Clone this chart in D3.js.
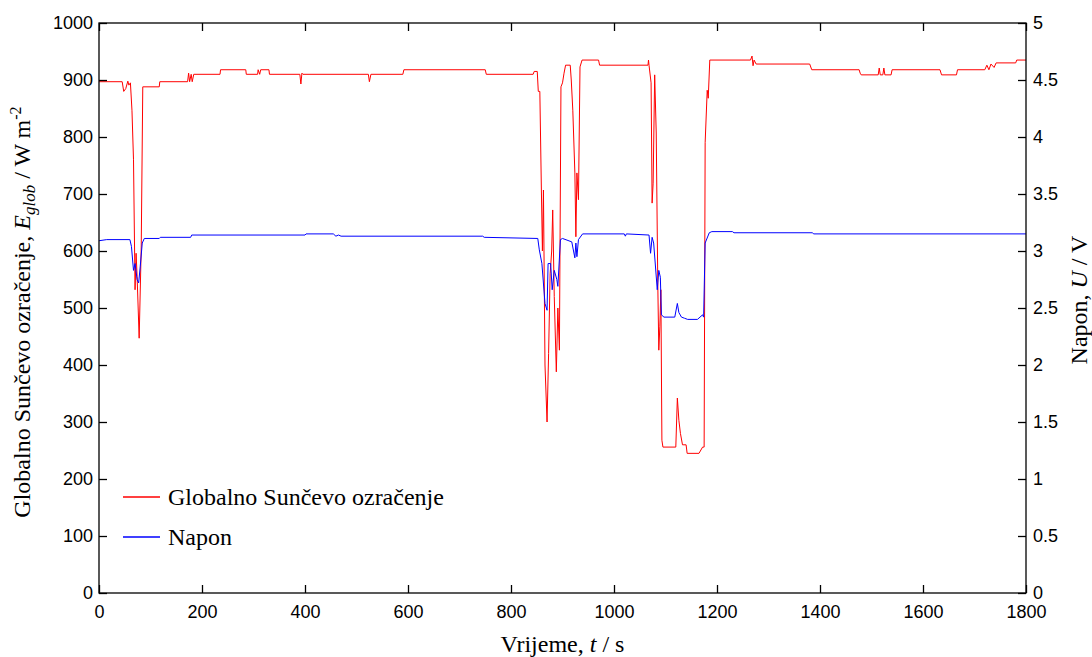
<!DOCTYPE html>
<html>
<head>
<meta charset="utf-8">
<script src="https://cdn.jsdelivr.net/npm/d3@7"></script>
<style>
  body { margin: 0; background: #fff; }
  svg { display: block; }
</style>
</head>
<body>
<svg width="1092" height="657"></svg>
<script>
// Globalno Sunčevo ozračenje (W/m2) vs. vrijeme (s)
var tIrr = [0,45,48,52,56,58,61,64,67,70,72,74,78,82,85,117,118,172,174,176,179,181,184,235,236,285,286,308,309,312,314,330,331,390,392,394,396,523,525,528,590,592,750,752,843,845,851,853,856,859,861,863,866,870,873,876,879,881,884,888,891,894,897,900,903,906,915,917,920,924,926,928,931,934,938,970,972,1066,1067,1068,1072,1074,1076,1079,1082,1085,1087,1089,1091,1093,1095,1120,1123,1126,1129,1133,1140,1142,1165,1172,1175,1177,1181,1183,1186,1265,1268,1270,1272,1276,1380,1384,1476,1478,1480,1513,1515,1517,1522,1524,1526,1538,1540,1633,1636,1665,1667,1720,1724,1728,1732,1738,1742,1780,1782,1800];
var irr = [897,897,880,885,898,891,895,847,760,532,596,555,447,607,888,888,897,897,912,897,910,897,910,910,918,918,910,910,918,910,918,918,910,910,893,912,910,910,897,910,910,918,918,910,910,915,915,880,880,707,600,707,400,300,420,560,600,672,520,388,500,426,888,895,912,926,926,900,847,737,625,737,690,923,935,935,926,926,935,926,895,684,719,909,807,544,426,467,532,268,256,256,342,303,280,260,260,245,245,256,256,790,882,868,935,935,942,925,935,928,928,918,918,912,909,909,921,909,909,921,909,909,918,918,909,909,918,918,926,918,928,922,930,930,935,935];

// Napon (V) vs. vrijeme (s)
var tVolt = [0,15,60,63,67,70,74,77,80,84,88,117,119,178,180,400,402,455,460,465,470,745,748,852,855,860,866,870,872,877,880,884,889,891,896,900,918,924,926,928,931,939,1020,1022,1024,1068,1071,1074,1077,1084,1087,1090,1092,1097,1118,1123,1126,1131,1137,1143,1162,1172,1174,1177,1185,1190,1230,1233,1385,1388,1800];
var volt = [3.09,3.10,3.10,3.04,2.83,2.89,2.75,2.72,2.86,3.07,3.11,3.11,3.12,3.12,3.14,3.14,3.15,3.15,3.13,3.14,3.13,3.13,3.12,3.11,3.01,2.89,2.54,2.48,2.89,2.89,2.66,2.83,2.75,2.69,3.10,3.11,3.08,2.94,3.07,2.95,3.10,3.15,3.15,3.13,3.15,3.14,2.98,3.12,3.07,2.66,2.83,2.77,2.44,2.42,2.42,2.54,2.46,2.42,2.41,2.40,2.40,2.44,2.42,3.07,3.16,3.17,3.17,3.16,3.16,3.15,3.15];

var xTicks = [0,200,400,600,800,1000,1200,1400,1600,1800];
var yLeftTicks = [0,100,200,300,400,500,600,700,800,900,1000];
var yRightTicks = [0,0.5,1,1.5,2,2.5,3,3.5,4,4.5,5];

var pl = 99, pr = 1026, pt = 23, pb = 593;
var svg = d3.select("svg");

var x = d3.scaleLinear().domain([0, 1800]).range([pl, pr]);
var yL = d3.scaleLinear().domain([0, 1000]).range([pb, pt]);
var yR = d3.scaleLinear().domain([0, 5]).range([pb, pt]);

var tickFont = "Liberation Sans, Arial, sans-serif";
var titleFont = "Liberation Serif, Times New Roman, serif";

// data lines
var lineIrr = d3.line().x(function(d, i) { return x(tIrr[i]); }).y(function(d) { return yL(d); });
var lineVolt = d3.line().x(function(d, i) { return x(tVolt[i]); }).y(function(d) { return yR(d); });

svg.append("path").datum(irr)
    .attr("d", lineIrr).attr("fill", "none")
    .attr("stroke", "#ff0000").attr("stroke-width", 1);
svg.append("path").datum(volt)
    .attr("d", lineVolt).attr("fill", "none")
    .attr("stroke", "#0000ff").attr("stroke-width", 1);

// frame
svg.append("rect")
    .attr("x", pl).attr("y", pt)
    .attr("width", pr - pl).attr("height", pb - pt)
    .attr("fill", "none").attr("stroke", "#000").attr("stroke-width", 1.3);

// axes, ticks pointing inward
var fmt = function(d) { return String(d); };
var axB = svg.append("g").attr("transform", "translate(0," + pb + ")")
    .call(d3.axisBottom(x).tickValues(xTicks).tickSizeInner(-8).tickSizeOuter(0).tickPadding(12).tickFormat(fmt));
var axT = svg.append("g").attr("transform", "translate(0," + pt + ")")
    .call(d3.axisTop(x).tickValues(xTicks).tickSizeInner(-8).tickSizeOuter(0).tickFormat(""));
var axL = svg.append("g").attr("transform", "translate(" + pl + ",0)")
    .call(d3.axisLeft(yL).tickValues(yLeftTicks).tickSizeInner(-8).tickSizeOuter(0).tickPadding(6).tickFormat(fmt));
var axR = svg.append("g").attr("transform", "translate(" + pr + ",0)")
    .call(d3.axisRight(yR).tickValues(yRightTicks).tickSizeInner(-8).tickSizeOuter(0).tickPadding(7).tickFormat(fmt));

[axB, axT, axL, axR].forEach(function(a) {
  a.select(".domain").remove();
  a.selectAll(".tick line").attr("stroke", "#000").attr("stroke-width", 1.3);
  a.selectAll("text").attr("font-family", tickFont).attr("font-size", 18).attr("fill", "#000");
});

// axis titles
var xt = svg.append("text")
    .attr("x", (pl + pr) / 2).attr("y", 652)
    .attr("text-anchor", "middle")
    .attr("font-family", titleFont).attr("font-size", 24);
xt.append("tspan").text("Vrijeme, ");
xt.append("tspan").attr("font-style", "italic").text("t");
xt.append("tspan").text(" / s");

var ylt = svg.append("text")
    .attr("transform", "translate(30,312) rotate(-90)")
    .attr("text-anchor", "middle")
    .attr("font-family", titleFont).attr("font-size", 24);
ylt.append("tspan").text("Globalno Sunčevo ozračenje, ");
ylt.append("tspan").attr("font-style", "italic").text("E");
ylt.append("tspan").attr("font-style", "italic").attr("font-size", 17).attr("dy", 5).text("glob");
ylt.append("tspan").attr("dy", -5).text(" / W m");
ylt.append("tspan").attr("font-size", 16).attr("dy", -9).text("-2");

var yrt = svg.append("text")
    .attr("transform", "translate(1087,300) rotate(-90)")
    .attr("text-anchor", "middle")
    .attr("font-family", titleFont).attr("font-size", 24);
yrt.append("tspan").text("Napon, ");
yrt.append("tspan").attr("font-style", "italic").text("U");
yrt.append("tspan").text(" / V");

// legend
var legendNames = ["Globalno Sunčevo ozračenje", "Napon"];
var legendColors = ["#ff0000", "#0000ff"];
var lg = svg.selectAll(".lg").data(legendNames).enter().append("g")
    .attr("class", "lg")
    .attr("transform", function(d, i) { return "translate(123," + (497 + i * 40) + ")"; });
lg.append("line").attr("x1", 0).attr("x2", 37).attr("y1", 0).attr("y2", 0)
    .attr("stroke", function(d, i) { return legendColors[i]; }).attr("stroke-width", 1.5);
lg.append("text").attr("x", 45).attr("y", 8)
    .attr("font-family", titleFont).attr("font-size", 24)
    .text(function(d) { return d; });
</script>
</body>
</html>
